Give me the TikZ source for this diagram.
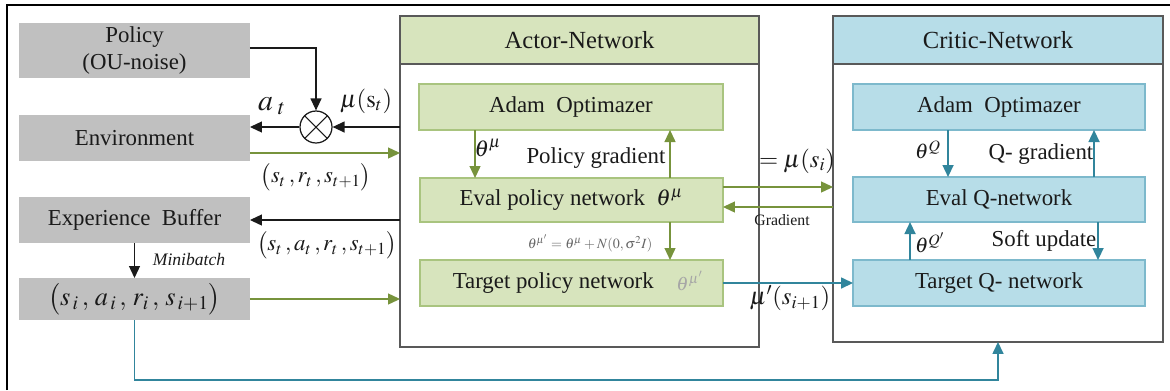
\documentclass[tikz,border=0pt]{standalone}
\usepackage{mathptmx}
\usepackage[no-math]{fontspec}
\setmainfont{Liberation Serif}
\usetikzlibrary{arrows.meta,calc}

\definecolor{boxgray}{HTML}{C0C0C0}
\definecolor{agreen}{HTML}{D7E4BD}
\definecolor{agreenline}{HTML}{A9C47F}
\definecolor{garrow}{HTML}{77933C}
\definecolor{cblue}{HTML}{B7DDE8}
\definecolor{cblueline}{HTML}{7DB9CC}
\definecolor{tarrow}{HTML}{31859C}
\definecolor{framegray}{HTML}{595959}
\definecolor{ink}{HTML}{1A1A1A}

\tikzset{
  base/.style={inner sep=0pt, outer sep=0pt, text=ink, font=\fontsize{13}{15}\selectfont, align=center},
  graybox/.style={base, fill=boxgray, minimum width=4.62cm},
  greenbox/.style={base, fill=agreen, draw=agreenline, line width=0.8pt, minimum width=6.06cm},
  bluebox/.style={base, fill=cblue, draw=cblueline, line width=0.8pt, minimum width=5.84cm},
  panel/.style={inner sep=0pt, outer sep=0pt, draw=framegray, line width=0.9pt},
  tip/.style={-{Triangle[length=0.24cm,width=0.22cm]}},
  blk/.style={tip, draw=ink, line width=0.7pt},
  garr/.style={tip, draw=garrow, line width=0.7pt},
  tarr/.style={tip, draw=tarrow, line width=0.9pt},
  lbl/.style={text=ink, inner sep=0pt},
}

\begin{document}
\begin{tikzpicture}[x=0.02cm, y=-0.02cm]
\useasboundingbox (0,0) rectangle (1170,390);

% outer frame
\draw[black, line width=0.8pt] (7,390) -- (7,5) -- (1170,5);

% left column
\node[graybox, minimum height=1.10cm] (policy) at (134.5,50.5) {Policy\\(OU-noise)};
\node[graybox, minimum height=0.92cm] (env) at (134.5,138) {Environment};
\node[graybox, minimum height=0.92cm] (buf) at (134.5,220) {Experience~~Buffer};
\node[graybox, minimum height=0.84cm] (sbox) at (134.5,299) {\fontsize{15}{17}\selectfont$\big(s_{\,i}\,,\,a_{\,i}\,,\,r_{i}\,,\,s_{\,i+1}\big)$};

% mixer
\node[circle, draw=ink, line width=0.7pt, minimum size=0.64cm, inner sep=0pt] (mix) at (316,127) {};
\draw[ink, line width=0.6pt] (mix.north west) -- (mix.south east) (mix.north east) -- (mix.south west);

% actor panel
\node[panel, minimum width=7.18cm, minimum height=6.62cm] (actor) at (579.5,181.5) {};
\node[panel, fill=agreen, minimum width=7.18cm, minimum height=0.96cm, font=\fontsize{14}{16}\selectfont, text=ink] (actorhead) at (579.5,40) {Actor-Network};
\node[greenbox, minimum width=6.08cm, minimum height=0.92cm] (adamA) at (571,107) {Adam~~Optimazer};
\node[greenbox, minimum height=0.88cm] (evalA) at (571.5,200) {Eval policy network~~$\theta^{\mu}$};
\node[greenbox, minimum height=0.92cm] (targetA) at (571.5,283) {Target policy network\hspace{1.6em}};
\node[text=gray!70, inner sep=0pt, font=\fontsize{11}{12}\selectfont] (tgtth) at (690,281) {$\theta^{\mu'}$};

% critic panel
\node[panel, minimum width=6.6cm, minimum height=6.52cm] (critic) at (998,179) {};
\node[panel, fill=cblue, minimum width=6.6cm, minimum height=0.96cm, font=\fontsize{14}{16}\selectfont, text=ink] (critichead) at (998,40) {Critic-Network};
\node[bluebox, minimum height=0.92cm] (adamC) at (999,107) {Adam~~Optimazer};
\node[bluebox, minimum height=0.90cm] (evalC) at (999,199.5) {Eval Q-network};
\node[bluebox, minimum height=0.92cm] (targetC) at (999,283) {Target Q- network};

% left side connectors
\draw[blk] (policy.east |- 0,48) -| (mix.north);
\draw[blk] (mix -| actor.west) -- (mix.east);
\draw[blk] (mix.west) -- (mix -| env.east);
\coordinate (e1) at ($(env.east)+(0,15)$);
\draw[garr] (e1) -- (e1 -| actor.west);
\draw[blk] (buf.east -| actor.west) -- (buf.east);
\draw[blk] (buf.south) -- (sbox.north);
\draw[garr] (sbox.east) -- (sbox.east -| actor.west);
\draw[tarr] (sbox.south) -- ++(0,60) -| (critic.south);

% actor internals
\draw[garr] ($(adamA.south west)+(56,0)$) -- ($(evalA.north west)+(55,0)$);
\draw[garr] ($(evalA.north west)+(250,0)$) -- ($(adamA.south west)+(251,0)$);
\draw[garr] ($(evalA.south west)+(250,0)$) -- ($(targetA.north west)+(250,0)$);

% actor <-> critic
\coordinate (g1) at ($(evalA.east)+(0,-13)$);
\draw[garr] (g1) -- (g1 -| critic.west);
\coordinate (g2) at ($(evalA.east)+(0,7)$);
\draw[garr] (g2 -| critic.west) -- (g2);
\draw[tarr] (targetA.east) -- (targetC.west);

% critic internals
\draw[tarr] ($(adamC.south west)+(95,0)$) -- ($(evalC.north west)+(95,0)$);
\draw[tarr] ($(evalC.north west)+(241,0)$) -- ($(adamC.south west)+(241,0)$);
\draw[tarr] ($(targetC.north west)+(57,0)$) -- ($(evalC.south west)+(57,0)$);
\draw[tarr] ($(evalC.south west)+(245,0)$) -- ($(targetC.north west)+(245,0)$);

% labels
\node[lbl, font=\fontsize{17}{18}\selectfont] (lat) at (272,106) {$a_{\;t}$};
\node[lbl, font=\fontsize{14}{16}\selectfont] (lmu) at (366,101) {$\mu(\mathrm{s}_{t})$};
\node[lbl, font=\fontsize{13}{15}\selectfont] (lsrs) at (316,177) {$\big(s_{t}\,, r_{t}\,, s_{t+1}\big)$};
\node[lbl, font=\fontsize{13}{15}\selectfont] (lsars) at (327,245) {$\big(s_{t}\,, a_{t}\,, r_{t}\,, s_{t+1}\big)$};
\node[lbl, font=\fontsize{10}{12}\itshape] (lmini) at (189,259) {Minibatch};
\node[lbl, font=\fontsize{13}{15}\selectfont] (lthA) at (488,148) {$\theta^{\mu}$};
\node[lbl, font=\fontsize{13}{15}\selectfont] (lpg) at (596,158) {Policy gradient};
\node[lbl, font=\fontsize{8}{10}\selectfont, text=gray!80!black] (lnoise) at (590,243) {$\theta^{\mu'}=\theta^{\mu}+N(0,\sigma^{2}I)$};
\node[lbl, font=\fontsize{14}{16}\selectfont] (lmus) at (797,161) {$=\mu(s_{i})$};
\node[lbl, font=\fontsize{9}{10}\selectfont] (lgrad) at (782,220) {Gradient};
\node[lbl, font=\fontsize{14}{16}\selectfont] (lmup) at (790,298) {$\mu'(s_{i+1})$};
\node[lbl, font=\fontsize{12}{14}\selectfont] (lthQ) at (928,150) {$\theta^{Q}$};
\node[lbl, font=\fontsize{13}{15}\selectfont] (lqg) at (1041,154) {Q- gradient};
\node[lbl, font=\fontsize{12}{14}\selectfont] (lthQp) at (930,243) {$\theta^{Q'}$};
\node[lbl, font=\fontsize{13}{15}\selectfont] (lsoft) at (1044,241) {Soft update};
\end{tikzpicture}
\end{document}
